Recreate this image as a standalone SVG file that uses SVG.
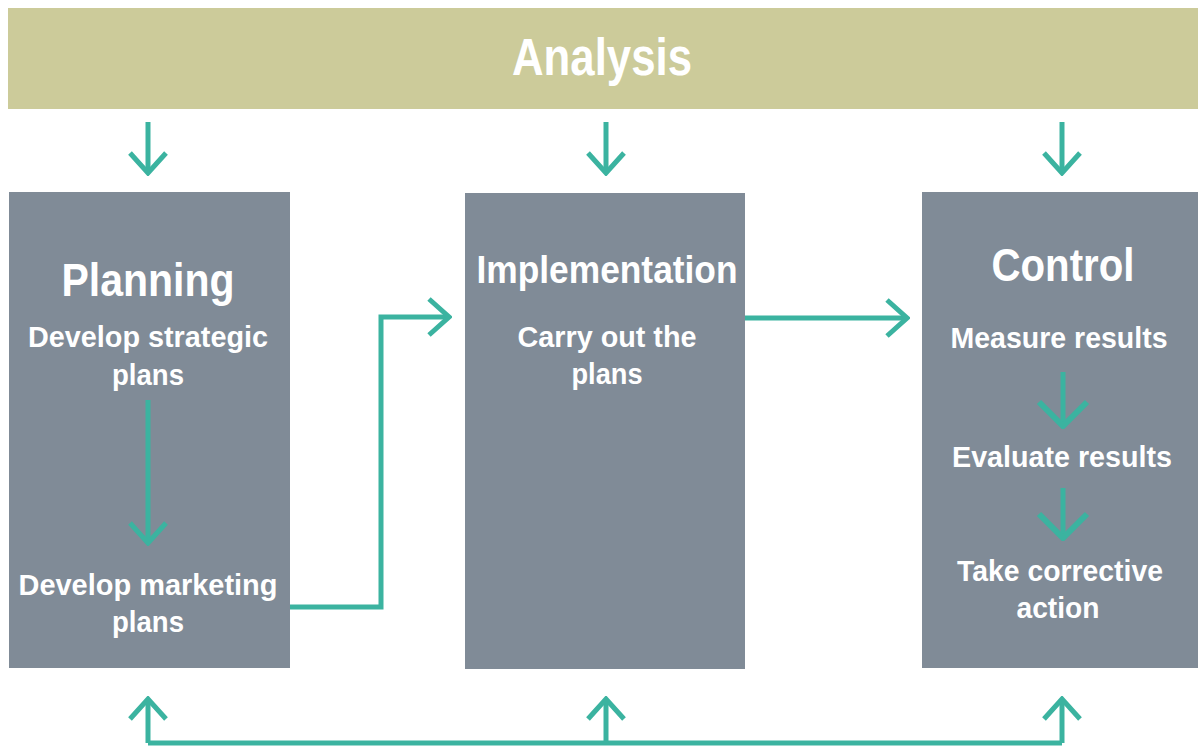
<svg xmlns="http://www.w3.org/2000/svg" width="1198" height="746" viewBox="0 0 1198 746">
<style>
.box{fill:#808b97}
.t{font-family:"Liberation Sans",Arial,sans-serif;font-weight:bold;fill:#ffffff;text-anchor:middle}
.h{font-size:47px}
.s{font-size:29px}
.c{fill:none;stroke:#3bb3a0;stroke-width:5}
</style>
<defs>
<marker id="ah" viewBox="0 0 26 42" refX="23" refY="21" markerWidth="26" markerHeight="42" markerUnits="userSpaceOnUse" orient="auto">
<path d="M3,3 L23,21 L3,39" fill="none" stroke="#3bb3a0" stroke-width="5"/>
</marker>
<marker id="ahb" viewBox="0 0 30 54" refX="27" refY="27" markerWidth="30" markerHeight="54" markerUnits="userSpaceOnUse" orient="auto">
<path d="M3,3 L27,27 L3,51" fill="none" stroke="#3bb3a0" stroke-width="6"/>
</marker>
</defs>
<rect width="1198" height="746" fill="#ffffff"/>
<g id="analysis">
<rect x="8" y="8" width="1190" height="101" fill="#cccb9a"/>
<text class="t" x="602" y="75" font-size="51" textLength="180" lengthAdjust="spacingAndGlyphs">Analysis</text>
</g>
<g id="planning">
<rect class="box" x="9" y="192" width="281" height="476"/>
<text class="t h" x="148" y="296" textLength="173" lengthAdjust="spacingAndGlyphs">Planning</text>
<text class="t s" x="148" y="347" textLength="240" lengthAdjust="spacingAndGlyphs">Develop strategic</text>
<text class="t s" x="148" y="385" textLength="72" lengthAdjust="spacingAndGlyphs">plans</text>
<text class="t s" x="148" y="595" textLength="259" lengthAdjust="spacingAndGlyphs">Develop marketing</text>
<text class="t s" x="148" y="632" textLength="72" lengthAdjust="spacingAndGlyphs">plans</text>
</g>
<g id="implementation">
<rect class="box" x="465" y="193" width="280" height="476"/>
<text class="t" x="607" y="283" font-size="38" textLength="261" lengthAdjust="spacingAndGlyphs">Implementation</text>
<text class="t s" x="607" y="347" textLength="179" lengthAdjust="spacingAndGlyphs">Carry out the</text>
<text class="t s" x="607" y="384" textLength="71" lengthAdjust="spacingAndGlyphs">plans</text>
</g>
<g id="control">
<rect class="box" x="922" y="192" width="276" height="476"/>
<text class="t h" x="1063" y="281" textLength="143" lengthAdjust="spacingAndGlyphs">Control</text>
<text class="t s" x="1059" y="348" textLength="217" lengthAdjust="spacingAndGlyphs">Measure results</text>
<text class="t s" x="1062" y="467" textLength="220" lengthAdjust="spacingAndGlyphs">Evaluate results</text>
<text class="t s" x="1060" y="581" textLength="206" lengthAdjust="spacingAndGlyphs">Take corrective</text>
<text class="t s" x="1058" y="618" textLength="83" lengthAdjust="spacingAndGlyphs">action</text>
</g>
<g id="connectors">
<path class="c" d="M148,122 V173" marker-end="url(#ah)"/>
<path class="c" d="M606,122 V173" marker-end="url(#ah)"/>
<path class="c" d="M1062,122 V173" marker-end="url(#ah)"/>
<path class="c" d="M148,400 V543" marker-end="url(#ah)"/>
<path class="c" d="M290,607 H381 V317 H449" marker-end="url(#ah)"/>
<path class="c" d="M745,318 H907" marker-end="url(#ah)"/>
<path class="c" d="M1063,372 V426" marker-end="url(#ahb)"/>
<path class="c" d="M1063,488 V538" marker-end="url(#ahb)"/>
<path class="c" d="M148,743 H1062"/>
<path class="c" d="M148,743 V699" marker-end="url(#ah)"/>
<path class="c" d="M606,743 V699" marker-end="url(#ah)"/>
<path class="c" d="M1062,743 V699" marker-end="url(#ah)"/>
</g>
</svg>
